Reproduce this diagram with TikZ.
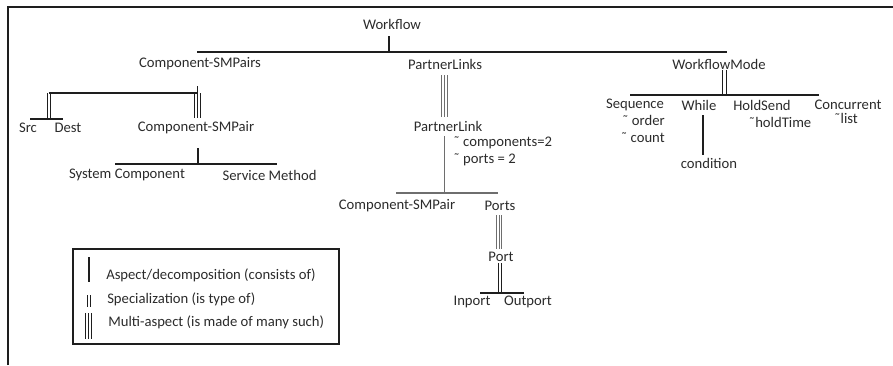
\documentclass[tikz,border=0pt]{standalone}
\usepackage{fontspec}
\setmainfont{Carlito}
\definecolor{txt}{HTML}{2B2B2B}
\definecolor{ln}{HTML}{1E1E1E}
\definecolor{lng}{HTML}{6E6E6E}
% parallel vertical ties: two or three strokes between two points
\newcommand{\tietwo}[3][ln]{%
  \draw[multi,draw=#1] ([xshift=-1.2pt]#2) -- ([xshift=-1.2pt]#3);
  \draw[multi,draw=#1] ([xshift=1.2pt]#2) -- ([xshift=1.2pt]#3);}
\newcommand{\tiethree}[3][ln]{%
  \draw[multi,draw=#1] ([xshift=-2pt]#2) -- ([xshift=-2pt]#3);
  \draw[multi,draw=#1] (#2) -- (#3);
  \draw[multi,draw=#1] ([xshift=2pt]#2) -- ([xshift=2pt]#3);}
\begin{document}
\begin{tikzpicture}[x=0.75pt,y=-0.75pt,
  lbl/.style={inner sep=0pt, text=txt, font=\fontsize{11}{13}\selectfont},
  tie/.style={line width=0.85pt, draw=ln},
  multi/.style={line width=0.75pt},
  frameline/.style={line width=1.2pt, draw=ln}]
\useasboundingbox (0,0) rectangle (893,365);

% page frame
\coordinate (f-tl) at (8,7);
\coordinate (f-tr) at (893,7);
\coordinate (f-bl) at (8,365);
\draw[frameline] (f-bl) -- (f-tl) -- (f-tr);

% labels
\node[lbl] (wf) at (392,24) {Workflow};
\node[lbl] (csps) at (200,64) {Component-SMPairs};
\node[lbl] (pls) at (445,64) {PartnerLinks};
\node[lbl] (wfm) at (719,64) {WorkflowMode};
\node[lbl] (src) at (28,128) {Src};
\node[lbl] (dest) at (68,128) {Dest};
\node[lbl] (csp) at (196,128) {Component-SMPair};
\node[lbl] (sysc) at (127,175) {System Component};
\node[lbl] (svcm) at (269.5,175) {Service Method};
\node[lbl] (pl) at (448,126) {PartnerLink};
\node[lbl,anchor=west] (plc) at (453,143) {˜ components=2};
\node[lbl,anchor=west] (plp) at (453,160) {˜ ports = 2};
\node[lbl] (csp2) at (397,206) {Component-SMPair};
\node[lbl] (ports) at (500,206) {Ports};
\node[lbl] (port) at (501,257) {Port};
\node[lbl] (inp) at (472,302) {Inport};
\node[lbl] (outp) at (528,302) {Outport};
\node[lbl] (seq) at (635,105) {Sequence};
\node[lbl,anchor=east] (ord) at (665,120) {˜ order};
\node[lbl,anchor=east] (cnt) at (665,138) {˜ count};
\node[lbl] (whl) at (699,105) {While};
\node[lbl] (cond) at (709,163) {condition};
\node[lbl] (hold) at (762,105) {HoldSend};
\node[lbl] (holdt) at (780,122) {˜holdTime};
\node[lbl] (conc) at (848,105) {Concurrent};
\node[lbl] (lst) at (846,118) {˜list};

% junction points
\coordinate (wf-a) at (389,36);
\coordinate (wf-b) at (389,52);
\coordinate (top-l) at (197,52);
\coordinate (top-r) at (727,52);
\coordinate (csps-a) at (197.5,86);
\coordinate (csps-b) at (197.5,93);
\coordinate (csp-a) at (197.5,118);
\coordinate (sd-t) at (49,93);
\coordinate (sd-b) at (49,119);
\coordinate (sd-l) at (30,119);
\coordinate (sd-r) at (63,119);
\coordinate (csp-b) at (198,148);
\coordinate (csp-c) at (198,164);
\coordinate (csp-l) at (115,164);
\coordinate (csp-r) at (277,164);
\coordinate (pls-a) at (444.5,75);
\coordinate (pl-a) at (444.5,117);
\coordinate (pl-b) at (444.5,136);
\coordinate (pl-c) at (444.5,193);
\coordinate (pl-l) at (396,193);
\coordinate (pl-r) at (498,193);
\coordinate (ports-a) at (499,215);
\coordinate (port-a) at (499,249);
\coordinate (port-b) at (500,263);
\coordinate (port-c) at (500,293);
\coordinate (port-l) at (480,293);
\coordinate (port-r) at (524,293);
\coordinate (wfm-a) at (724.5,70);
\coordinate (wfm-b) at (724.5,95);
\coordinate (wfm-l) at (630,95);
\coordinate (wfm-r) at (819,95);
\coordinate (whl-a) at (703,115);
\coordinate (whl-b) at (703,155);

% Workflow
\draw[tie] (wf-a) -- (wf-b);
\draw[tie] (top-l) -- (top-r);
% Component-SMPairs
\draw[tie] (csps-a) -- (csps-b);
\tiethree{csps-b}{csp-a}
\draw[tie] (sd-t) -- (csps-b);
\tietwo{sd-t}{sd-b}
\draw[tie] (sd-l) -- (sd-r);
% Component-SMPair
\draw[tie] (csp-b) -- (csp-c);
\draw[tie] (csp-l) -- (csp-r);
% PartnerLinks
\tiethree[lng]{pls-a}{pl-a}
\draw[tie,draw=lng] (pl-b) -- (pl-c);
\draw[tie,draw=lng] (pl-l) -- (pl-r);
\tiethree[lng]{ports-a}{port-a}
\tietwo[ln]{port-b}{port-c}
\draw[tie] (port-l) -- (port-r);
% WorkflowMode
\tietwo{wfm-a}{wfm-b}
\draw[tie] (wfm-l) -- (wfm-r);
\draw[tie] (whl-a) -- (whl-b);

% legend
\coordinate (lg-tl) at (73,249);
\coordinate (lg-br) at (339,344);
\draw[line width=0.8pt, draw=ln] (lg-tl) rectangle (lg-br);
\coordinate (k1-a) at (89,257);
\coordinate (k1-b) at (89,282);
\coordinate (k2-a) at (89,295);
\coordinate (k2-b) at (89,307);
\coordinate (k3-a) at (88.5,313);
\coordinate (k3-b) at (88.5,339);
\draw[tie] (k1-a) -- (k1-b);
\tietwo{k2-a}{k2-b}
\tiethree{k3-a}{k3-b}
\node[lbl,anchor=west] (k1) at (106,275) {Aspect/decomposition (consists of)};
\node[lbl,anchor=west] (k2) at (107,299) {Specialization (is type of)};
\node[lbl,anchor=west] (k3) at (108,322) {Multi-aspect (is made of many such)};
\end{tikzpicture}
\end{document}
